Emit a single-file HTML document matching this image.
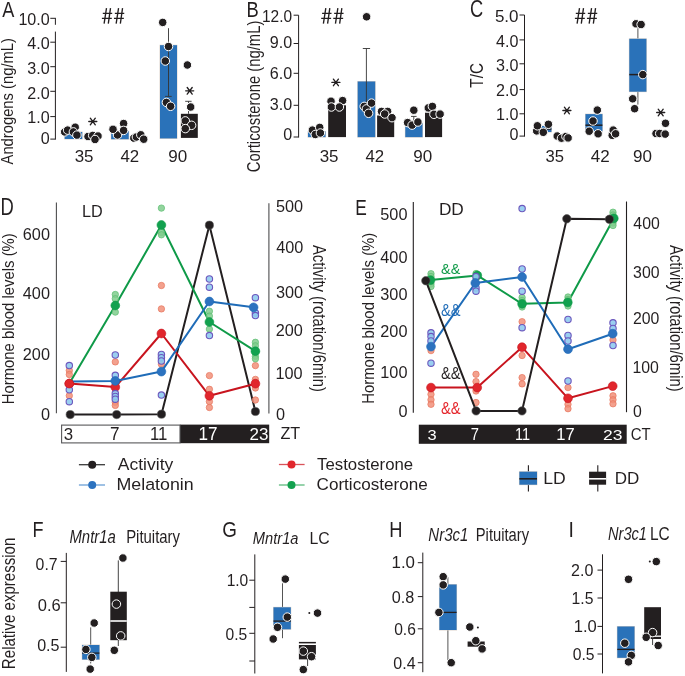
<!DOCTYPE html>
<html><head><meta charset="utf-8"><style>
html,body{margin:0;padding:0;background:#fff;}
svg{display:block;will-change:transform;}
text{font-family:"Liberation Sans",sans-serif;}
</style></head><body>
<svg width="685" height="676" viewBox="0 0 685 676">
<rect width="685" height="676" fill="#fff"/>
<text transform="translate(2.15,16.90) scale(0.8034,1)" font-size="22.55" fill="#231f20">A</text>
<path d="M106.50,8.1 L104.10,23.60 M110.50,8.1 L108.30,23.60 M102.80,13.30 H112.20 M101.90,18.40 H111.80" stroke="#231f20" stroke-width="1.35" fill="none"/>
<path d="M118.55,8.1 L116.15,23.60 M122.55,8.1 L120.35,23.60 M114.85,13.30 H124.25 M113.95,18.40 H123.85" stroke="#231f20" stroke-width="1.35" fill="none"/>
<line x1="50.3" y1="18.3" x2="55.9" y2="18.3" stroke="#231f20" stroke-width="1.0"/>
<line x1="55.4" y1="18.3" x2="55.4" y2="24.8" stroke="#231f20" stroke-width="1.0"/>
<line x1="55.4" y1="31.6" x2="55.4" y2="139.6" stroke="#231f20" stroke-width="1.0"/>
<line x1="50.3" y1="42.2" x2="55.4" y2="42.2" stroke="#231f20" stroke-width="1.0"/>
<line x1="50.3" y1="66.7" x2="55.4" y2="66.7" stroke="#231f20" stroke-width="1.0"/>
<line x1="50.3" y1="91.3" x2="55.4" y2="91.3" stroke="#231f20" stroke-width="1.0"/>
<line x1="50.3" y1="116.6" x2="55.4" y2="116.6" stroke="#231f20" stroke-width="1.0"/>
<line x1="50.3" y1="139.1" x2="55.4" y2="139.1" stroke="#231f20" stroke-width="1.0"/>
<text transform="translate(18.39,24.59) scale(0.9991,1)" font-size="16.11" fill="#231f20">10.0</text>
<text transform="translate(27.31,48.59) scale(1.0000,1)" font-size="16.11" fill="#231f20">4.0</text>
<text transform="translate(27.31,73.74) scale(1.0000,1)" font-size="16.11" fill="#231f20">3.0</text>
<text transform="translate(27.31,98.74) scale(1.0000,1)" font-size="16.11" fill="#231f20">2.0</text>
<text transform="translate(27.31,123.24) scale(1.0000,1)" font-size="16.11" fill="#231f20">1.0</text>
<text transform="translate(40.76,143.94) scale(1.0000,1)" font-size="16.11" fill="#231f20">0</text>
<text transform="translate(12.68,164.44) rotate(-90) scale(0.9243,1)" font-size="15.98" fill="#231f20">Androgens (ng/mL)</text>
<rect x="64.25" y="131.55" width="18.40" height="7.90" fill="#d9cfc6"/>
<rect x="64.7" y="132" width="17.50" height="7.00" fill="#2a72b9"/>
<rect x="84.5" y="138.2" width="17.00" height="0.80" fill="#231f20"/>
<rect x="110.75" y="130.75" width="18.40" height="8.90" fill="#d9cfc6"/>
<rect x="111.2" y="131.2" width="17.50" height="8.00" fill="#2a72b9"/>
<rect x="130.5" y="138.4" width="17.20" height="0.80" fill="#231f20"/>
<rect x="159.55" y="44.75" width="17.90" height="94.10" fill="#d9cfc6"/>
<rect x="160" y="45.2" width="17.00" height="93.20" fill="#2a72b9"/>
<rect x="180.9" y="113.8" width="16.90" height="24.10" fill="#231f20"/>
<line x1="168.5" y1="28.2" x2="168.5" y2="96.4" stroke="#333" stroke-width="0.9"/>
<line x1="165.1" y1="96.4" x2="171.7" y2="96.4" stroke="#333" stroke-width="0.9"/>
<line x1="188.5" y1="101.3" x2="188.5" y2="113.8" stroke="#333" stroke-width="0.9"/>
<line x1="185.2" y1="101.3" x2="191.6" y2="101.3" stroke="#333" stroke-width="0.9"/>
<circle cx="64.7" cy="131.9" r="4.25" fill="#231f20" stroke="#fff" stroke-width="1.0"/>
<circle cx="67.6" cy="130.1" r="4.25" fill="#231f20" stroke="#fff" stroke-width="1.0"/>
<circle cx="75.2" cy="127.2" r="4.25" fill="#231f20" stroke="#fff" stroke-width="1.0"/>
<circle cx="73.4" cy="131.9" r="4.25" fill="#231f20" stroke="#fff" stroke-width="1.0"/>
<circle cx="76.9" cy="135.1" r="4.25" fill="#231f20" stroke="#fff" stroke-width="1.0"/>
<circle cx="88" cy="136.5" r="4.25" fill="#231f20" stroke="#fff" stroke-width="1.0"/>
<circle cx="92.7" cy="135.4" r="4.25" fill="#231f20" stroke="#fff" stroke-width="1.0"/>
<circle cx="98" cy="136" r="4.25" fill="#231f20" stroke="#fff" stroke-width="1.0"/>
<circle cx="95" cy="139.5" r="4.25" fill="#231f20" stroke="#fff" stroke-width="1.0"/>
<circle cx="117.5" cy="135" r="4.25" fill="#231f20" stroke="#fff" stroke-width="1.0"/>
<circle cx="113" cy="129.3" r="4.25" fill="#231f20" stroke="#fff" stroke-width="1.0"/>
<circle cx="123.6" cy="123.5" r="4.25" fill="#231f20" stroke="#fff" stroke-width="1.0"/>
<circle cx="123.6" cy="130.4" r="4.25" fill="#231f20" stroke="#fff" stroke-width="1.0"/>
<circle cx="133.8" cy="138.1" r="4.25" fill="#231f20" stroke="#fff" stroke-width="1.0"/>
<circle cx="136.4" cy="137" r="4.25" fill="#231f20" stroke="#fff" stroke-width="1.0"/>
<circle cx="140.8" cy="134.8" r="4.25" fill="#231f20" stroke="#fff" stroke-width="1.0"/>
<circle cx="143.7" cy="139.2" r="4.25" fill="#231f20" stroke="#fff" stroke-width="1.0"/>
<circle cx="162.7" cy="22.4" r="4.25" fill="#231f20" stroke="#fff" stroke-width="1.0"/>
<circle cx="168.5" cy="46.5" r="4.25" fill="#231f20" stroke="#fff" stroke-width="1.0"/>
<circle cx="165.3" cy="61" r="4.25" fill="#231f20" stroke="#fff" stroke-width="1.0"/>
<circle cx="166.4" cy="102.4" r="4.25" fill="#231f20" stroke="#fff" stroke-width="1.0"/>
<circle cx="170.6" cy="106.3" r="4.25" fill="#231f20" stroke="#fff" stroke-width="1.0"/>
<circle cx="187.4" cy="65" r="4.25" fill="#231f20" stroke="#fff" stroke-width="1.0"/>
<circle cx="190.7" cy="107" r="4.25" fill="#231f20" stroke="#fff" stroke-width="1.0"/>
<circle cx="185.3" cy="120.9" r="4.25" fill="#231f20" stroke="#fff" stroke-width="1.0"/>
<circle cx="191.6" cy="125.3" r="4.25" fill="#231f20" stroke="#fff" stroke-width="1.0"/>
<circle cx="185.3" cy="128.6" r="4.25" fill="#231f20" stroke="#fff" stroke-width="1.0"/>
<path d="M88.80,121.50 H96.80 M90.30,118.20 L95.30,124.80 M95.30,118.20 L90.30,124.80" stroke="#231f20" stroke-width="1.35" stroke-linecap="round" fill="none"/>
<path d="M185.70,90.80 H193.70 M187.20,87.50 L192.20,94.10 M192.20,87.50 L187.20,94.10" stroke="#231f20" stroke-width="1.35" stroke-linecap="round" fill="none"/>
<text transform="translate(74.66,162.03) scale(0.9993,1)" font-size="16.96" fill="#231f20">35</text>
<text transform="translate(120.42,162.20) scale(0.9804,1)" font-size="17.20" fill="#231f20">42</text>
<text transform="translate(168.19,162.03) scale(1.0066,1)" font-size="16.96" fill="#231f20">90</text>
<text transform="translate(246.38,16.90) scale(0.8379,1)" font-size="21.96" fill="#231f20">B</text>
<path d="M325.80,8.1 L323.40,23.60 M329.80,8.1 L327.60,23.60 M322.10,13.30 H331.50 M321.20,18.40 H331.10" stroke="#231f20" stroke-width="1.35" fill="none"/>
<path d="M337.85,8.1 L335.45,23.60 M341.85,8.1 L339.65,23.60 M334.15,13.30 H343.55 M333.25,18.40 H343.15" stroke="#231f20" stroke-width="1.35" fill="none"/>
<line x1="298.6" y1="15.2" x2="298.6" y2="137.5" stroke="#231f20" stroke-width="1.0"/>
<line x1="293.6" y1="15.2" x2="298.6" y2="15.2" stroke="#231f20" stroke-width="1.0"/>
<line x1="293.6" y1="43.5" x2="298.6" y2="43.5" stroke="#231f20" stroke-width="1.0"/>
<line x1="293.6" y1="73.3" x2="298.6" y2="73.3" stroke="#231f20" stroke-width="1.0"/>
<line x1="293.6" y1="105.3" x2="298.6" y2="105.3" stroke="#231f20" stroke-width="1.0"/>
<line x1="293.6" y1="137.0" x2="298.6" y2="137.0" stroke="#231f20" stroke-width="1.0"/>
<text transform="translate(261.94,22.04) scale(0.9618,1)" font-size="16.11" fill="#231f20">12.0</text>
<text transform="translate(269.81,48.24) scale(1.0000,1)" font-size="16.11" fill="#231f20">9.0</text>
<text transform="translate(269.81,78.84) scale(1.0000,1)" font-size="16.11" fill="#231f20">6.0</text>
<text transform="translate(269.81,110.24) scale(1.0000,1)" font-size="16.11" fill="#231f20">3.0</text>
<text transform="translate(283.26,140.04) scale(1.0000,1)" font-size="16.11" fill="#231f20">0</text>
<text transform="translate(259.53,172.14) rotate(-90) scale(0.8381,1)" font-size="17.69" fill="#231f20">Corticosterone (ng/mL)</text>
<rect x="307.55" y="131.05" width="18.40" height="6.50" fill="#d9cfc6"/>
<rect x="308" y="131.5" width="17.50" height="5.60" fill="#2a72b9"/>
<rect x="328.2" y="105.3" width="17.80" height="31.80" fill="#231f20"/>
<rect x="357.25" y="81.05" width="18.40" height="56.50" fill="#d9cfc6"/>
<rect x="357.7" y="81.5" width="17.50" height="55.60" fill="#2a72b9"/>
<rect x="377.1" y="115.5" width="17.10" height="21.60" fill="#231f20"/>
<rect x="404.85" y="122.55" width="18.10" height="15.00" fill="#d9cfc6"/>
<rect x="405.3" y="123" width="17.20" height="14.10" fill="#2a72b9"/>
<rect x="425" y="112.7" width="17.10" height="24.40" fill="#231f20"/>
<line x1="366.4" y1="48.5" x2="366.4" y2="106" stroke="#333" stroke-width="0.9"/>
<line x1="362.8" y1="48.5" x2="370.1" y2="48.5" stroke="#333" stroke-width="0.9"/>
<line x1="413.8" y1="116.4" x2="413.8" y2="123" stroke="#333" stroke-width="0.9"/>
<line x1="411" y1="116.4" x2="416.6" y2="116.4" stroke="#333" stroke-width="0.9"/>
<circle cx="312.4" cy="130.1" r="4.25" fill="#231f20" stroke="#fff" stroke-width="1.0"/>
<circle cx="319.7" cy="127.4" r="4.25" fill="#231f20" stroke="#fff" stroke-width="1.0"/>
<circle cx="315.3" cy="134.5" r="4.25" fill="#231f20" stroke="#fff" stroke-width="1.0"/>
<circle cx="320.4" cy="133" r="4.25" fill="#231f20" stroke="#fff" stroke-width="1.0"/>
<circle cx="331" cy="101.2" r="4.25" fill="#231f20" stroke="#fff" stroke-width="1.0"/>
<circle cx="342.6" cy="100.6" r="4.25" fill="#231f20" stroke="#fff" stroke-width="1.0"/>
<circle cx="331.4" cy="107" r="4.25" fill="#231f20" stroke="#fff" stroke-width="1.0"/>
<circle cx="339.4" cy="107" r="4.25" fill="#231f20" stroke="#fff" stroke-width="1.0"/>
<circle cx="366.6" cy="16.8" r="4.25" fill="#231f20" stroke="#fff" stroke-width="1.0"/>
<circle cx="364.2" cy="106.4" r="4.25" fill="#231f20" stroke="#fff" stroke-width="1.0"/>
<circle cx="366.4" cy="108.9" r="4.25" fill="#231f20" stroke="#fff" stroke-width="1.0"/>
<circle cx="368.6" cy="113.3" r="4.25" fill="#231f20" stroke="#fff" stroke-width="1.0"/>
<circle cx="371.5" cy="103.1" r="4.25" fill="#231f20" stroke="#fff" stroke-width="1.0"/>
<circle cx="381.5" cy="111.4" r="4.25" fill="#231f20" stroke="#fff" stroke-width="1.0"/>
<circle cx="387.6" cy="111.4" r="4.25" fill="#231f20" stroke="#fff" stroke-width="1.0"/>
<circle cx="384.7" cy="114" r="4.25" fill="#231f20" stroke="#fff" stroke-width="1.0"/>
<circle cx="392" cy="117.7" r="4.25" fill="#231f20" stroke="#fff" stroke-width="1.0"/>
<circle cx="413.8" cy="110.2" r="4.25" fill="#231f20" stroke="#fff" stroke-width="1.0"/>
<circle cx="407.6" cy="122.6" r="4.25" fill="#231f20" stroke="#fff" stroke-width="1.0"/>
<circle cx="412.1" cy="125.1" r="4.25" fill="#231f20" stroke="#fff" stroke-width="1.0"/>
<circle cx="417.9" cy="122" r="4.25" fill="#231f20" stroke="#fff" stroke-width="1.0"/>
<circle cx="428.3" cy="107.9" r="4.25" fill="#231f20" stroke="#fff" stroke-width="1.0"/>
<circle cx="432.4" cy="106.4" r="4.25" fill="#231f20" stroke="#fff" stroke-width="1.0"/>
<circle cx="433.9" cy="114.3" r="4.25" fill="#231f20" stroke="#fff" stroke-width="1.0"/>
<circle cx="440.1" cy="114.1" r="4.25" fill="#231f20" stroke="#fff" stroke-width="1.0"/>
<path d="M331.90,82.40 H339.90 M333.40,79.10 L338.40,85.70 M338.40,79.10 L333.40,85.70" stroke="#231f20" stroke-width="1.35" stroke-linecap="round" fill="none"/>
<text transform="translate(319.66,162.03) scale(0.9993,1)" font-size="16.96" fill="#231f20">35</text>
<text transform="translate(365.42,162.20) scale(0.9804,1)" font-size="17.20" fill="#231f20">42</text>
<text transform="translate(413.19,162.03) scale(1.0066,1)" font-size="16.96" fill="#231f20">90</text>
<text transform="translate(469.99,17.46) scale(0.7739,1)" font-size="23.60" fill="#231f20">C</text>
<path d="M579.50,8.1 L577.10,23.60 M583.50,8.1 L581.30,23.60 M575.80,13.30 H585.20 M574.90,18.40 H584.80" stroke="#231f20" stroke-width="1.35" fill="none"/>
<path d="M591.55,8.1 L589.15,23.60 M595.55,8.1 L593.35,23.60 M587.85,13.30 H597.25 M586.95,18.40 H596.85" stroke="#231f20" stroke-width="1.35" fill="none"/>
<line x1="524.5" y1="15.0" x2="524.5" y2="136.6" stroke="#231f20" stroke-width="1.0"/>
<line x1="519.5" y1="15.0" x2="524.5" y2="15.0" stroke="#231f20" stroke-width="1.0"/>
<line x1="519.5" y1="39.9" x2="524.5" y2="39.9" stroke="#231f20" stroke-width="1.0"/>
<line x1="519.5" y1="63.8" x2="524.5" y2="63.8" stroke="#231f20" stroke-width="1.0"/>
<line x1="519.5" y1="89.6" x2="524.5" y2="89.6" stroke="#231f20" stroke-width="1.0"/>
<line x1="519.5" y1="113.8" x2="524.5" y2="113.8" stroke="#231f20" stroke-width="1.0"/>
<line x1="519.5" y1="136.1" x2="524.5" y2="136.1" stroke="#231f20" stroke-width="1.0"/>
<text transform="translate(494.92,22.24) scale(1.0545,1)" font-size="16.11" fill="#231f20">5.0</text>
<text transform="translate(496.11,46.84) scale(1.0000,1)" font-size="16.11" fill="#231f20">4.0</text>
<text transform="translate(496.11,71.04) scale(1.0000,1)" font-size="16.11" fill="#231f20">3.0</text>
<text transform="translate(496.11,95.84) scale(1.0000,1)" font-size="16.11" fill="#231f20">2.0</text>
<text transform="translate(496.11,120.44) scale(1.0000,1)" font-size="16.11" fill="#231f20">1.0</text>
<text transform="translate(509.56,140.44) scale(1.0000,1)" font-size="16.11" fill="#231f20">0</text>
<text transform="translate(482.81,87.64) rotate(-90) scale(0.8144,1)" font-size="18.78" fill="#231f20">T/C</text>
<rect x="534.3499999999999" y="125.55" width="17.50" height="6.90" fill="#d9cfc6"/>
<rect x="534.8" y="126" width="16.60" height="6.00" fill="#2a72b9"/>
<line x1="534.8" y1="129" x2="551.4" y2="129" stroke="#231f20" stroke-width="1.5"/>
<rect x="585.05" y="113.64999999999999" width="17.80" height="18.10" fill="#d9cfc6"/>
<rect x="585.5" y="114.1" width="16.90" height="17.20" fill="#2a72b9"/>
<line x1="585.5" y1="125.2" x2="602.4" y2="125.2" stroke="#231f20" stroke-width="1.5"/>
<line x1="637.9" y1="27.8" x2="637.9" y2="38.8" stroke="#555" stroke-width="1.0"/>
<line x1="637.9" y1="91.7" x2="637.9" y2="104.6" stroke="#555" stroke-width="1.0"/>
<rect x="628.8499999999999" y="38.349999999999994" width="18.00" height="53.80" fill="#d9cfc6"/>
<rect x="629.3" y="38.8" width="17.10" height="52.90" fill="#2a72b9"/>
<line x1="629.3" y1="74.6" x2="646.4" y2="74.6" stroke="#231f20" stroke-width="1.5"/>
<circle cx="536.7" cy="130.9" r="4.25" fill="#231f20" stroke="#fff" stroke-width="1.0"/>
<circle cx="537.4" cy="125.8" r="4.25" fill="#231f20" stroke="#fff" stroke-width="1.0"/>
<circle cx="543.3" cy="132.3" r="4.25" fill="#231f20" stroke="#fff" stroke-width="1.0"/>
<circle cx="548.4" cy="124.3" r="4.25" fill="#231f20" stroke="#fff" stroke-width="1.0"/>
<circle cx="557.2" cy="136" r="4.25" fill="#231f20" stroke="#fff" stroke-width="1.0"/>
<circle cx="561.5" cy="138.2" r="4.25" fill="#231f20" stroke="#fff" stroke-width="1.0"/>
<circle cx="565.9" cy="136.5" r="4.25" fill="#231f20" stroke="#fff" stroke-width="1.0"/>
<circle cx="568.1" cy="137.9" r="4.25" fill="#231f20" stroke="#fff" stroke-width="1.0"/>
<circle cx="597.3" cy="110.1" r="4.25" fill="#231f20" stroke="#fff" stroke-width="1.0"/>
<circle cx="593" cy="121" r="4.25" fill="#231f20" stroke="#fff" stroke-width="1.0"/>
<circle cx="589.2" cy="131.2" r="4.25" fill="#231f20" stroke="#fff" stroke-width="1.0"/>
<circle cx="598.1" cy="133.8" r="4.25" fill="#231f20" stroke="#fff" stroke-width="1.0"/>
<circle cx="612.2" cy="135.3" r="4.25" fill="#231f20" stroke="#fff" stroke-width="1.0"/>
<circle cx="613.2" cy="130.1" r="4.25" fill="#231f20" stroke="#fff" stroke-width="1.0"/>
<circle cx="615.6" cy="133.8" r="4.25" fill="#231f20" stroke="#fff" stroke-width="1.0"/>
<circle cx="636" cy="23.8" r="4.25" fill="#231f20" stroke="#fff" stroke-width="1.0"/>
<circle cx="641.1" cy="24.5" r="4.25" fill="#231f20" stroke="#fff" stroke-width="1.0"/>
<circle cx="642.8" cy="74.6" r="4.25" fill="#231f20" stroke="#fff" stroke-width="1.0"/>
<circle cx="632.7" cy="98.8" r="4.25" fill="#231f20" stroke="#fff" stroke-width="1.0"/>
<circle cx="634.6" cy="108.7" r="4.25" fill="#231f20" stroke="#fff" stroke-width="1.0"/>
<circle cx="665.5" cy="123.3" r="4.25" fill="#231f20" stroke="#fff" stroke-width="1.0"/>
<circle cx="656" cy="133.5" r="4.25" fill="#231f20" stroke="#fff" stroke-width="1.0"/>
<circle cx="659.7" cy="133.5" r="4.25" fill="#231f20" stroke="#fff" stroke-width="1.0"/>
<circle cx="665.2" cy="134.1" r="4.25" fill="#231f20" stroke="#fff" stroke-width="1.0"/>
<path d="M562.90,110.50 H570.90 M564.40,107.20 L569.40,113.80 M569.40,107.20 L564.40,113.80" stroke="#231f20" stroke-width="1.35" stroke-linecap="round" fill="none"/>
<path d="M656.70,112.50 H664.70 M658.20,109.20 L663.20,115.80 M663.20,109.20 L658.20,115.80" stroke="#231f20" stroke-width="1.35" stroke-linecap="round" fill="none"/>
<text transform="translate(545.48,162.03) scale(0.9822,1)" font-size="16.96" fill="#231f20">35</text>
<text transform="translate(590.82,162.20) scale(0.9916,1)" font-size="17.20" fill="#231f20">42</text>
<text transform="translate(632.89,162.03) scale(1.0066,1)" font-size="16.96" fill="#231f20">90</text>
<text transform="translate(0.48,214.90) scale(0.7955,1)" font-size="23.13" fill="#231f20">D</text>
<text transform="translate(82.06,217.00) scale(1.0131,1)" font-size="16.00" fill="#231f20">LD</text>
<line x1="56.4" y1="202.4" x2="56.4" y2="413.3" stroke="#4d4d4f" stroke-width="1.1"/>
<line x1="268.9" y1="203.3" x2="268.9" y2="413.5" stroke="#4d4d4f" stroke-width="1.1"/>
<text transform="translate(22.81,239.79) scale(1.0000,1)" font-size="16.25" fill="#231f20">600</text>
<text transform="translate(22.81,298.89) scale(1.0000,1)" font-size="16.25" fill="#231f20">400</text>
<text transform="translate(22.81,359.59) scale(1.0000,1)" font-size="16.25" fill="#231f20">200</text>
<text transform="translate(40.89,419.89) scale(1.0000,1)" font-size="16.25" fill="#231f20">0</text>
<text transform="translate(275.95,211.69) scale(1.0000,1)" font-size="16.25" fill="#231f20">500</text>
<text transform="translate(276.23,253.29) scale(1.0000,1)" font-size="16.25" fill="#231f20">400</text>
<text transform="translate(275.99,297.79) scale(1.0000,1)" font-size="16.25" fill="#231f20">300</text>
<text transform="translate(275.79,335.79) scale(1.0000,1)" font-size="16.25" fill="#231f20">200</text>
<text transform="translate(275.38,379.19) scale(1.0000,1)" font-size="16.25" fill="#231f20">100</text>
<text transform="translate(275.95,419.99) scale(1.0000,1)" font-size="16.25" fill="#231f20">0</text>
<text transform="translate(14.28,404.33) rotate(-90) scale(0.8783,1)" font-size="16.94" fill="#231f20">Hormone blood levels (%)</text>
<text transform="translate(313.07,244.96) rotate(90) scale(0.7960,1)" font-size="18.66" fill="#231f20">Activity (rotation/6min)</text>
<rect x="179.8" y="424.6" width="89.40" height="18.60" fill="#231f20"/>
<rect x="61.6" y="425.1" width="118.4" height="17.8" fill="#fff" stroke="#58585a" stroke-width="1.1"/>
<text transform="translate(63.67,439.83) scale(0.9930,1)" font-size="16.96" fill="#231f20">3</text>
<text transform="translate(109.94,440.00) scale(0.9821,1)" font-size="17.45" fill="#231f20">7</text>
<text transform="translate(149.94,440.00) scale(0.9643,1)" font-size="17.45" fill="#231f20">11</text>
<text transform="translate(198.41,440.00) scale(0.9830,1)" font-size="17.45" fill="#fff">17</text>
<text transform="translate(249.55,439.83) scale(1.0024,1)" font-size="16.96" fill="#fff">23</text>
<text transform="translate(280.47,439.20) scale(0.9533,1)" font-size="17.02" fill="#231f20">ZT</text>
<polyline points="70.2,414.6 116.7,414.6 161.5,414.2 209.4,225.2 255.4,411.5" fill="none" stroke="#231f20" stroke-width="2.0" stroke-linejoin="round"/>
<circle cx="70.2" cy="414.6" r="4.1" fill="#231f20" stroke="#555" stroke-width="0.6"/>
<circle cx="116.7" cy="414.6" r="4.1" fill="#231f20" stroke="#555" stroke-width="0.6"/>
<circle cx="161.5" cy="414.2" r="4.1" fill="#231f20" stroke="#555" stroke-width="0.6"/>
<circle cx="209.4" cy="225.2" r="4.1" fill="#231f20" stroke="#555" stroke-width="0.6"/>
<circle cx="255.4" cy="411.5" r="4.1" fill="#231f20" stroke="#555" stroke-width="0.6"/>
<polyline points="69.3,383.6 115.3,387.1 161.4,333.5 209.4,395.8 255.4,383.7" fill="none" stroke="#c8141e" stroke-width="2.0" stroke-linejoin="round"/>
<circle cx="69.3" cy="370.5" r="3.2" fill="#f1907a" fill-opacity="0.85" stroke="#e8765f" stroke-opacity="0.8" stroke-width="0.9"/>
<circle cx="69.3" cy="374.5" r="3.2" fill="#f1907a" fill-opacity="0.85" stroke="#e8765f" stroke-opacity="0.8" stroke-width="0.9"/>
<circle cx="69.3" cy="395.7" r="3.2" fill="#f1907a" fill-opacity="0.85" stroke="#e8765f" stroke-opacity="0.8" stroke-width="0.9"/>
<circle cx="115.3" cy="361.9" r="3.2" fill="#f1907a" fill-opacity="0.85" stroke="#e8765f" stroke-opacity="0.8" stroke-width="0.9"/>
<circle cx="115.3" cy="402.3" r="3.2" fill="#f1907a" fill-opacity="0.85" stroke="#e8765f" stroke-opacity="0.8" stroke-width="0.9"/>
<circle cx="115.3" cy="405.4" r="3.2" fill="#f1907a" fill-opacity="0.85" stroke="#e8765f" stroke-opacity="0.8" stroke-width="0.9"/>
<circle cx="161.4" cy="285.5" r="3.2" fill="#f1907a" fill-opacity="0.85" stroke="#e8765f" stroke-opacity="0.8" stroke-width="0.9"/>
<circle cx="161.4" cy="308.9" r="3.2" fill="#f1907a" fill-opacity="0.85" stroke="#e8765f" stroke-opacity="0.8" stroke-width="0.9"/>
<circle cx="161.4" cy="364.2" r="3.2" fill="#f1907a" fill-opacity="0.85" stroke="#e8765f" stroke-opacity="0.8" stroke-width="0.9"/>
<circle cx="209.4" cy="375.6" r="3.2" fill="#f1907a" fill-opacity="0.85" stroke="#e8765f" stroke-opacity="0.8" stroke-width="0.9"/>
<circle cx="209.4" cy="389.3" r="3.2" fill="#f1907a" fill-opacity="0.85" stroke="#e8765f" stroke-opacity="0.8" stroke-width="0.9"/>
<circle cx="209.4" cy="401.6" r="3.2" fill="#f1907a" fill-opacity="0.85" stroke="#e8765f" stroke-opacity="0.8" stroke-width="0.9"/>
<circle cx="209.4" cy="407.5" r="3.2" fill="#f1907a" fill-opacity="0.85" stroke="#e8765f" stroke-opacity="0.8" stroke-width="0.9"/>
<circle cx="255.4" cy="365.6" r="3.2" fill="#f1907a" fill-opacity="0.85" stroke="#e8765f" stroke-opacity="0.8" stroke-width="0.9"/>
<circle cx="255.4" cy="379.4" r="3.2" fill="#f1907a" fill-opacity="0.85" stroke="#e8765f" stroke-opacity="0.8" stroke-width="0.9"/>
<circle cx="255.4" cy="388.0" r="3.2" fill="#f1907a" fill-opacity="0.85" stroke="#e8765f" stroke-opacity="0.8" stroke-width="0.9"/>
<circle cx="255.4" cy="400.0" r="3.2" fill="#f1907a" fill-opacity="0.85" stroke="#e8765f" stroke-opacity="0.8" stroke-width="0.9"/>
<circle cx="69.3" cy="383.6" r="4.4" fill="#e1262c" stroke="#c8141e" stroke-width="0.6"/>
<circle cx="115.3" cy="387.1" r="4.4" fill="#e1262c" stroke="#c8141e" stroke-width="0.6"/>
<circle cx="161.4" cy="333.5" r="4.4" fill="#e1262c" stroke="#c8141e" stroke-width="0.6"/>
<circle cx="209.4" cy="395.8" r="4.4" fill="#e1262c" stroke="#c8141e" stroke-width="0.6"/>
<circle cx="255.4" cy="383.7" r="4.4" fill="#e1262c" stroke="#c8141e" stroke-width="0.6"/>
<polyline points="69.3,383.6 115.3,305.5 161.4,225.0 209.4,322.0 255.4,351.2" fill="none" stroke="#0f9a48" stroke-width="2.0" stroke-linejoin="round"/>
<circle cx="115.3" cy="294.5" r="3.2" fill="#80cc8d" fill-opacity="0.85" stroke="#5fbf74" stroke-opacity="0.8" stroke-width="0.9"/>
<circle cx="115.3" cy="298.7" r="3.2" fill="#80cc8d" fill-opacity="0.85" stroke="#5fbf74" stroke-opacity="0.8" stroke-width="0.9"/>
<circle cx="115.3" cy="312.1" r="3.2" fill="#80cc8d" fill-opacity="0.85" stroke="#5fbf74" stroke-opacity="0.8" stroke-width="0.9"/>
<circle cx="161.4" cy="208.1" r="3.2" fill="#80cc8d" fill-opacity="0.85" stroke="#5fbf74" stroke-opacity="0.8" stroke-width="0.9"/>
<circle cx="161.4" cy="232.5" r="3.2" fill="#80cc8d" fill-opacity="0.85" stroke="#5fbf74" stroke-opacity="0.8" stroke-width="0.9"/>
<circle cx="161.4" cy="234.8" r="3.2" fill="#80cc8d" fill-opacity="0.85" stroke="#5fbf74" stroke-opacity="0.8" stroke-width="0.9"/>
<circle cx="209.4" cy="311.2" r="3.2" fill="#80cc8d" fill-opacity="0.85" stroke="#5fbf74" stroke-opacity="0.8" stroke-width="0.9"/>
<circle cx="209.4" cy="316.1" r="3.2" fill="#80cc8d" fill-opacity="0.85" stroke="#5fbf74" stroke-opacity="0.8" stroke-width="0.9"/>
<circle cx="209.4" cy="329.1" r="3.2" fill="#80cc8d" fill-opacity="0.85" stroke="#5fbf74" stroke-opacity="0.8" stroke-width="0.9"/>
<circle cx="255.4" cy="342.3" r="3.2" fill="#80cc8d" fill-opacity="0.85" stroke="#5fbf74" stroke-opacity="0.8" stroke-width="0.9"/>
<circle cx="255.4" cy="345.8" r="3.2" fill="#80cc8d" fill-opacity="0.85" stroke="#5fbf74" stroke-opacity="0.8" stroke-width="0.9"/>
<circle cx="255.4" cy="356.3" r="3.2" fill="#80cc8d" fill-opacity="0.85" stroke="#5fbf74" stroke-opacity="0.8" stroke-width="0.9"/>
<circle cx="255.4" cy="358.8" r="3.2" fill="#80cc8d" fill-opacity="0.85" stroke="#5fbf74" stroke-opacity="0.8" stroke-width="0.9"/>
<circle cx="115.3" cy="305.5" r="4.4" fill="#12a14f" stroke="#0f9a48" stroke-width="0.6"/>
<circle cx="161.4" cy="225.0" r="4.4" fill="#12a14f" stroke="#0f9a48" stroke-width="0.6"/>
<circle cx="209.4" cy="322.0" r="4.4" fill="#12a14f" stroke="#0f9a48" stroke-width="0.6"/>
<circle cx="255.4" cy="351.2" r="4.4" fill="#12a14f" stroke="#0f9a48" stroke-width="0.6"/>
<polyline points="69.3,381.5 115.3,380.9 161.4,371.6 209.4,301.5 253.6,307.3" fill="none" stroke="#1f6cb8" stroke-width="2.0" stroke-linejoin="round"/>
<circle cx="69.3" cy="365.6" r="3.2" fill="#8fcaee" fill-opacity="0.9" stroke="#6c57bd" stroke-width="1.1"/>
<circle cx="69.3" cy="389.8" r="3.2" fill="#8fcaee" fill-opacity="0.9" stroke="#6c57bd" stroke-width="1.1"/>
<circle cx="69.3" cy="401.7" r="3.2" fill="#8fcaee" fill-opacity="0.9" stroke="#6c57bd" stroke-width="1.1"/>
<circle cx="115.3" cy="355.0" r="3.2" fill="#8fcaee" fill-opacity="0.9" stroke="#6c57bd" stroke-width="1.1"/>
<circle cx="115.3" cy="375.3" r="3.2" fill="#8fcaee" fill-opacity="0.9" stroke="#6c57bd" stroke-width="1.1"/>
<circle cx="115.3" cy="393.6" r="3.2" fill="#8fcaee" fill-opacity="0.9" stroke="#6c57bd" stroke-width="1.1"/>
<circle cx="115.3" cy="396.5" r="3.2" fill="#8fcaee" fill-opacity="0.9" stroke="#6c57bd" stroke-width="1.1"/>
<circle cx="115.3" cy="399.2" r="3.2" fill="#8fcaee" fill-opacity="0.9" stroke="#6c57bd" stroke-width="1.1"/>
<circle cx="161.4" cy="354.5" r="3.2" fill="#8fcaee" fill-opacity="0.9" stroke="#6c57bd" stroke-width="1.1"/>
<circle cx="161.4" cy="357.7" r="3.2" fill="#8fcaee" fill-opacity="0.9" stroke="#6c57bd" stroke-width="1.1"/>
<circle cx="161.4" cy="361.0" r="3.2" fill="#8fcaee" fill-opacity="0.9" stroke="#6c57bd" stroke-width="1.1"/>
<circle cx="161.4" cy="395.1" r="3.2" fill="#8fcaee" fill-opacity="0.9" stroke="#6c57bd" stroke-width="1.1"/>
<circle cx="209.4" cy="279.0" r="3.2" fill="#8fcaee" fill-opacity="0.9" stroke="#6c57bd" stroke-width="1.1"/>
<circle cx="209.4" cy="287.2" r="3.2" fill="#8fcaee" fill-opacity="0.9" stroke="#6c57bd" stroke-width="1.1"/>
<circle cx="209.4" cy="335.6" r="3.2" fill="#8fcaee" fill-opacity="0.9" stroke="#6c57bd" stroke-width="1.1"/>
<circle cx="255.4" cy="297.7" r="3.2" fill="#8fcaee" fill-opacity="0.9" stroke="#6c57bd" stroke-width="1.1"/>
<circle cx="255.4" cy="313.0" r="3.2" fill="#8fcaee" fill-opacity="0.9" stroke="#6c57bd" stroke-width="1.1"/>
<circle cx="255.4" cy="315.6" r="3.2" fill="#8fcaee" fill-opacity="0.9" stroke="#6c57bd" stroke-width="1.1"/>
<circle cx="115.3" cy="380.9" r="4.4" fill="#2c72bf" stroke="#1f6cb8" stroke-width="0.6"/>
<circle cx="161.4" cy="371.6" r="4.4" fill="#2c72bf" stroke="#1f6cb8" stroke-width="0.6"/>
<circle cx="209.4" cy="301.5" r="4.4" fill="#2c72bf" stroke="#1f6cb8" stroke-width="0.6"/>
<circle cx="253.6" cy="307.3" r="4.4" fill="#2c72bf" stroke="#1f6cb8" stroke-width="0.6"/>
<circle cx="69.3" cy="383.6" r="4.4" fill="#e1262c" stroke="#c8141e" stroke-width="0.6"/>
<text transform="translate(355.17,214.90) scale(0.7588,1)" font-size="22.84" fill="#231f20">E</text>
<text transform="translate(438.88,214.90) scale(1.0692,1)" font-size="16.15" fill="#231f20">DD</text>
<line x1="413.3" y1="202.1" x2="413.3" y2="412.7" stroke="#231f20" stroke-width="1.1"/>
<line x1="626.5" y1="201.5" x2="626.5" y2="412.2" stroke="#231f20" stroke-width="1.1"/>
<text transform="translate(380.31,219.79) scale(1.0000,1)" font-size="16.25" fill="#231f20">500</text>
<text transform="translate(380.31,262.79) scale(1.0000,1)" font-size="16.25" fill="#231f20">400</text>
<text transform="translate(380.31,299.59) scale(1.0000,1)" font-size="16.25" fill="#231f20">300</text>
<text transform="translate(380.31,336.89) scale(1.0000,1)" font-size="16.25" fill="#231f20">200</text>
<text transform="translate(380.31,377.89) scale(1.0000,1)" font-size="16.25" fill="#231f20">100</text>
<text transform="translate(398.39,417.09) scale(1.0000,1)" font-size="16.25" fill="#231f20">0</text>
<text transform="translate(633.34,229.24) scale(1.0000,1)" font-size="15.83" fill="#231f20">400</text>
<text transform="translate(633.11,277.54) scale(1.0000,1)" font-size="15.83" fill="#231f20">300</text>
<text transform="translate(632.91,323.94) scale(1.0000,1)" font-size="15.83" fill="#231f20">200</text>
<text transform="translate(632.51,373.04) scale(1.0000,1)" font-size="15.83" fill="#231f20">100</text>
<text transform="translate(633.07,416.94) scale(1.0000,1)" font-size="15.83" fill="#231f20">0</text>
<text transform="translate(374.04,403.73) rotate(-90) scale(0.8668,1)" font-size="17.16" fill="#231f20">Hormone blood levels (%)</text>
<text transform="translate(669.78,244.96) rotate(90) scale(0.8147,1)" font-size="18.23" fill="#231f20">Activity (rotation/6min)</text>
<rect x="418.8" y="424.7" width="207.90" height="19.10" fill="#231f20"/>
<text transform="translate(427.58,439.84) scale(1.0562,1)" font-size="15.55" fill="#fff">3</text>
<text transform="translate(470.86,440.00) scale(0.9203,1)" font-size="16.00" fill="#fff">7</text>
<text transform="translate(514.91,440.00) scale(0.9085,1)" font-size="16.00" fill="#fff">11</text>
<text transform="translate(556.36,440.00) scale(1.0343,1)" font-size="16.00" fill="#fff">17</text>
<text transform="translate(602.93,439.84) scale(1.1252,1)" font-size="15.55" fill="#fff">23</text>
<text transform="translate(630.75,439.64) scale(0.9149,1)" font-size="16.40" fill="#231f20">CT</text>
<text transform="translate(441.10,273.75) scale(0.9401,1)" font-size="15.23" fill="#0f9a48">&amp;&amp;</text>
<text transform="translate(440.99,315.74) scale(0.9309,1)" font-size="15.80" fill="#1f6cb8">&amp;&amp;</text>
<text transform="translate(440.99,379.44) scale(0.9225,1)" font-size="15.94" fill="#231f20">&amp;&amp;</text>
<text transform="translate(440.99,414.04) scale(0.9225,1)" font-size="15.94" fill="#e4252b">&amp;&amp;</text>
<polyline points="431.0,387.6 477.2,387.6 522.0,347.2 568.0,398.3 612.7,386.1" fill="none" stroke="#c8141e" stroke-width="2.0" stroke-linejoin="round"/>
<circle cx="431.0" cy="350.6" r="3.2" fill="#f1907a" fill-opacity="0.85" stroke="#e8765f" stroke-opacity="0.8" stroke-width="0.9"/>
<circle cx="431.0" cy="394.3" r="3.2" fill="#f1907a" fill-opacity="0.85" stroke="#e8765f" stroke-opacity="0.8" stroke-width="0.9"/>
<circle cx="431.0" cy="399.8" r="3.2" fill="#f1907a" fill-opacity="0.85" stroke="#e8765f" stroke-opacity="0.8" stroke-width="0.9"/>
<circle cx="431.0" cy="404.3" r="3.2" fill="#f1907a" fill-opacity="0.85" stroke="#e8765f" stroke-opacity="0.8" stroke-width="0.9"/>
<circle cx="476.0" cy="374.3" r="3.2" fill="#f1907a" fill-opacity="0.85" stroke="#e8765f" stroke-opacity="0.8" stroke-width="0.9"/>
<circle cx="476.0" cy="381.6" r="3.2" fill="#f1907a" fill-opacity="0.85" stroke="#e8765f" stroke-opacity="0.8" stroke-width="0.9"/>
<circle cx="476.0" cy="391.0" r="3.2" fill="#f1907a" fill-opacity="0.85" stroke="#e8765f" stroke-opacity="0.8" stroke-width="0.9"/>
<circle cx="476.0" cy="402.5" r="3.2" fill="#f1907a" fill-opacity="0.85" stroke="#e8765f" stroke-opacity="0.8" stroke-width="0.9"/>
<circle cx="522.1" cy="321.7" r="3.2" fill="#f1907a" fill-opacity="0.85" stroke="#e8765f" stroke-opacity="0.8" stroke-width="0.9"/>
<circle cx="522.1" cy="355.5" r="3.2" fill="#f1907a" fill-opacity="0.85" stroke="#e8765f" stroke-opacity="0.8" stroke-width="0.9"/>
<circle cx="522.1" cy="377.6" r="3.2" fill="#f1907a" fill-opacity="0.85" stroke="#e8765f" stroke-opacity="0.8" stroke-width="0.9"/>
<circle cx="522.1" cy="383.9" r="3.2" fill="#f1907a" fill-opacity="0.85" stroke="#e8765f" stroke-opacity="0.8" stroke-width="0.9"/>
<circle cx="568.0" cy="387.6" r="3.2" fill="#f1907a" fill-opacity="0.85" stroke="#e8765f" stroke-opacity="0.8" stroke-width="0.9"/>
<circle cx="568.0" cy="404.3" r="3.2" fill="#f1907a" fill-opacity="0.85" stroke="#e8765f" stroke-opacity="0.8" stroke-width="0.9"/>
<circle cx="568.0" cy="408.7" r="3.2" fill="#f1907a" fill-opacity="0.85" stroke="#e8765f" stroke-opacity="0.8" stroke-width="0.9"/>
<circle cx="613.0" cy="340.0" r="3.2" fill="#f1907a" fill-opacity="0.85" stroke="#e8765f" stroke-opacity="0.8" stroke-width="0.9"/>
<circle cx="613.0" cy="395.8" r="3.2" fill="#f1907a" fill-opacity="0.85" stroke="#e8765f" stroke-opacity="0.8" stroke-width="0.9"/>
<circle cx="613.0" cy="399.8" r="3.2" fill="#f1907a" fill-opacity="0.85" stroke="#e8765f" stroke-opacity="0.8" stroke-width="0.9"/>
<circle cx="613.0" cy="403.8" r="3.2" fill="#f1907a" fill-opacity="0.85" stroke="#e8765f" stroke-opacity="0.8" stroke-width="0.9"/>
<circle cx="431.0" cy="387.6" r="4.4" fill="#e1262c" stroke="#c8141e" stroke-width="0.6"/>
<circle cx="477.2" cy="387.6" r="4.4" fill="#e1262c" stroke="#c8141e" stroke-width="0.6"/>
<circle cx="522.0" cy="347.2" r="4.4" fill="#e1262c" stroke="#c8141e" stroke-width="0.6"/>
<circle cx="568.0" cy="398.3" r="4.4" fill="#e1262c" stroke="#c8141e" stroke-width="0.6"/>
<circle cx="612.7" cy="386.1" r="4.4" fill="#e1262c" stroke="#c8141e" stroke-width="0.6"/>
<polyline points="430.5,280.1 477.3,275.4 522.1,303.8 567.8,302.4 613.8,218.4" fill="none" stroke="#0f9a48" stroke-width="2.0" stroke-linejoin="round"/>
<circle cx="431.0" cy="273.7" r="3.2" fill="#80cc8d" fill-opacity="0.85" stroke="#5fbf74" stroke-opacity="0.8" stroke-width="0.9"/>
<circle cx="431.0" cy="276.5" r="3.2" fill="#80cc8d" fill-opacity="0.85" stroke="#5fbf74" stroke-opacity="0.8" stroke-width="0.9"/>
<circle cx="431.0" cy="284.0" r="3.2" fill="#80cc8d" fill-opacity="0.85" stroke="#5fbf74" stroke-opacity="0.8" stroke-width="0.9"/>
<circle cx="431.0" cy="286.5" r="3.2" fill="#80cc8d" fill-opacity="0.85" stroke="#5fbf74" stroke-opacity="0.8" stroke-width="0.9"/>
<circle cx="476.0" cy="273.5" r="3.2" fill="#80cc8d" fill-opacity="0.85" stroke="#5fbf74" stroke-opacity="0.8" stroke-width="0.9"/>
<circle cx="476.0" cy="278.0" r="3.2" fill="#80cc8d" fill-opacity="0.85" stroke="#5fbf74" stroke-opacity="0.8" stroke-width="0.9"/>
<circle cx="522.1" cy="297.5" r="3.2" fill="#80cc8d" fill-opacity="0.85" stroke="#5fbf74" stroke-opacity="0.8" stroke-width="0.9"/>
<circle cx="522.1" cy="300.5" r="3.2" fill="#80cc8d" fill-opacity="0.85" stroke="#5fbf74" stroke-opacity="0.8" stroke-width="0.9"/>
<circle cx="522.1" cy="307.0" r="3.2" fill="#80cc8d" fill-opacity="0.85" stroke="#5fbf74" stroke-opacity="0.8" stroke-width="0.9"/>
<circle cx="568.0" cy="297.0" r="3.2" fill="#80cc8d" fill-opacity="0.85" stroke="#5fbf74" stroke-opacity="0.8" stroke-width="0.9"/>
<circle cx="568.0" cy="299.5" r="3.2" fill="#80cc8d" fill-opacity="0.85" stroke="#5fbf74" stroke-opacity="0.8" stroke-width="0.9"/>
<circle cx="568.0" cy="306.0" r="3.2" fill="#80cc8d" fill-opacity="0.85" stroke="#5fbf74" stroke-opacity="0.8" stroke-width="0.9"/>
<circle cx="613.0" cy="212.2" r="3.2" fill="#80cc8d" fill-opacity="0.85" stroke="#5fbf74" stroke-opacity="0.8" stroke-width="0.9"/>
<circle cx="613.0" cy="215.0" r="3.2" fill="#80cc8d" fill-opacity="0.85" stroke="#5fbf74" stroke-opacity="0.8" stroke-width="0.9"/>
<circle cx="613.0" cy="223.0" r="3.2" fill="#80cc8d" fill-opacity="0.85" stroke="#5fbf74" stroke-opacity="0.8" stroke-width="0.9"/>
<circle cx="613.0" cy="225.5" r="3.2" fill="#80cc8d" fill-opacity="0.85" stroke="#5fbf74" stroke-opacity="0.8" stroke-width="0.9"/>
<circle cx="430.5" cy="280.1" r="4.4" fill="#12a14f" stroke="#0f9a48" stroke-width="0.6"/>
<circle cx="477.3" cy="275.4" r="4.4" fill="#12a14f" stroke="#0f9a48" stroke-width="0.6"/>
<circle cx="522.1" cy="303.8" r="4.4" fill="#12a14f" stroke="#0f9a48" stroke-width="0.6"/>
<circle cx="567.8" cy="302.4" r="4.4" fill="#12a14f" stroke="#0f9a48" stroke-width="0.6"/>
<circle cx="613.8" cy="218.4" r="4.4" fill="#12a14f" stroke="#0f9a48" stroke-width="0.6"/>
<polyline points="431.0,346.6 475.3,283.0 522.1,277.0 568.0,349.2 612.7,333.7" fill="none" stroke="#1f6cb8" stroke-width="2.0" stroke-linejoin="round"/>
<circle cx="431.0" cy="332.8" r="3.2" fill="#8fcaee" fill-opacity="0.9" stroke="#6c57bd" stroke-width="1.1"/>
<circle cx="431.0" cy="336.6" r="3.2" fill="#8fcaee" fill-opacity="0.9" stroke="#6c57bd" stroke-width="1.1"/>
<circle cx="431.0" cy="341.0" r="3.2" fill="#8fcaee" fill-opacity="0.9" stroke="#6c57bd" stroke-width="1.1"/>
<circle cx="431.0" cy="363.2" r="3.2" fill="#8fcaee" fill-opacity="0.9" stroke="#6c57bd" stroke-width="1.1"/>
<circle cx="476.0" cy="276.6" r="3.2" fill="#8fcaee" fill-opacity="0.9" stroke="#6c57bd" stroke-width="1.1"/>
<circle cx="476.0" cy="288.0" r="3.2" fill="#8fcaee" fill-opacity="0.9" stroke="#6c57bd" stroke-width="1.1"/>
<circle cx="476.0" cy="291.2" r="3.2" fill="#8fcaee" fill-opacity="0.9" stroke="#6c57bd" stroke-width="1.1"/>
<circle cx="522.1" cy="208.6" r="3.2" fill="#8fcaee" fill-opacity="0.9" stroke="#6c57bd" stroke-width="1.1"/>
<circle cx="522.1" cy="269.0" r="3.2" fill="#8fcaee" fill-opacity="0.9" stroke="#6c57bd" stroke-width="1.1"/>
<circle cx="522.1" cy="291.2" r="3.2" fill="#8fcaee" fill-opacity="0.9" stroke="#6c57bd" stroke-width="1.1"/>
<circle cx="522.1" cy="327.7" r="3.2" fill="#8fcaee" fill-opacity="0.9" stroke="#6c57bd" stroke-width="1.1"/>
<circle cx="568.0" cy="319.5" r="3.2" fill="#8fcaee" fill-opacity="0.9" stroke="#6c57bd" stroke-width="1.1"/>
<circle cx="568.0" cy="335.5" r="3.2" fill="#8fcaee" fill-opacity="0.9" stroke="#6c57bd" stroke-width="1.1"/>
<circle cx="568.0" cy="341.0" r="3.2" fill="#8fcaee" fill-opacity="0.9" stroke="#6c57bd" stroke-width="1.1"/>
<circle cx="568.0" cy="381.0" r="3.2" fill="#8fcaee" fill-opacity="0.9" stroke="#6c57bd" stroke-width="1.1"/>
<circle cx="613.0" cy="322.8" r="3.2" fill="#8fcaee" fill-opacity="0.9" stroke="#6c57bd" stroke-width="1.1"/>
<circle cx="613.0" cy="328.4" r="3.2" fill="#8fcaee" fill-opacity="0.9" stroke="#6c57bd" stroke-width="1.1"/>
<circle cx="613.0" cy="345.5" r="3.2" fill="#8fcaee" fill-opacity="0.9" stroke="#6c57bd" stroke-width="1.1"/>
<circle cx="431.0" cy="346.6" r="4.4" fill="#2c72bf" stroke="#1f6cb8" stroke-width="0.6"/>
<circle cx="475.3" cy="283.0" r="4.4" fill="#2c72bf" stroke="#1f6cb8" stroke-width="0.6"/>
<circle cx="522.1" cy="277.0" r="4.4" fill="#2c72bf" stroke="#1f6cb8" stroke-width="0.6"/>
<circle cx="568.0" cy="349.2" r="4.4" fill="#2c72bf" stroke="#1f6cb8" stroke-width="0.6"/>
<circle cx="612.7" cy="333.7" r="4.4" fill="#2c72bf" stroke="#1f6cb8" stroke-width="0.6"/>
<polyline points="425.8,280.7 476.1,410.9 522.0,410.9 566.8,218.8 609.4,219.3" fill="none" stroke="#231f20" stroke-width="2.0" stroke-linejoin="round"/>
<circle cx="425.8" cy="280.7" r="4.2" fill="#231f20" stroke="#555" stroke-width="0.6"/>
<circle cx="476.1" cy="410.9" r="4.2" fill="#231f20" stroke="#555" stroke-width="0.6"/>
<circle cx="522.0" cy="410.9" r="4.2" fill="#231f20" stroke="#555" stroke-width="0.6"/>
<circle cx="566.8" cy="218.8" r="4.2" fill="#231f20" stroke="#555" stroke-width="0.6"/>
<circle cx="609.4" cy="219.3" r="4.2" fill="#231f20" stroke="#555" stroke-width="0.6"/>
<line x1="78.9" y1="464.7" x2="105.0" y2="464.7" stroke="#3a3a3a" stroke-width="1.3"/>
<circle cx="92.2" cy="464.7" r="4.0" fill="#231f20"/>
<line x1="78.9" y1="485.0" x2="105.0" y2="485.0" stroke="#6b9fd6" stroke-width="1.3"/>
<circle cx="92.2" cy="485.0" r="4.0" fill="#2c72bf"/>
<line x1="278.9" y1="464.5" x2="304.6" y2="464.5" stroke="#d9535a" stroke-width="1.3"/>
<circle cx="291.5" cy="464.5" r="4.0" fill="#e1262c"/>
<line x1="278.9" y1="485.0" x2="304.6" y2="485.0" stroke="#5dba7d" stroke-width="1.3"/>
<circle cx="291.5" cy="485.0" r="4.0" fill="#12a14f"/>
<text transform="translate(117.86,469.90) scale(1.0275,1)" font-size="17.02" fill="#231f20">Activity</text>
<text transform="translate(116.43,489.70) scale(1.0944,1)" font-size="16.29" fill="#231f20">Melatonin</text>
<text transform="translate(317.02,470.00) scale(0.9873,1)" font-size="17.02" fill="#231f20">Testosterone</text>
<text transform="translate(316.55,489.83) scale(1.0339,1)" font-size="16.54" fill="#231f20">Corticosterone</text>
<line x1="528.4" y1="465.3" x2="528.4" y2="491.5" stroke="#231f20" stroke-width="1.1"/>
<rect x="518.9499999999999" y="471.25" width="18.50" height="13.90" fill="#d9cfc6"/>
<rect x="519.4" y="471.7" width="17.60" height="13.00" fill="#2a72b9"/>
<line x1="519.4" y1="478.8" x2="537.0" y2="478.8" stroke="#231f20" stroke-width="1.6"/>
<line x1="597.8" y1="465.3" x2="597.8" y2="491.5" stroke="#231f20" stroke-width="1.1"/>
<rect x="589.1" y="471.7" width="17.00" height="13.00" fill="#231f20"/>
<line x1="589.1" y1="478.8" x2="606.1" y2="478.8" stroke="#fff" stroke-width="1.6"/>
<text transform="translate(543.15,484.20) scale(1.0433,1)" font-size="16.87" fill="#231f20">LD</text>
<text transform="translate(614.69,484.20) scale(1.0096,1)" font-size="16.87" fill="#231f20">DD</text>
<text transform="translate(32.61,536.70) scale(0.7855,1)" font-size="22.98" fill="#231f20">F</text>
<text transform="translate(69.45,543.10) scale(0.8554,1)" font-size="17.45" fill="#231f20" font-style="italic">Mntr1a</text>
<text transform="translate(126.17,543.10) scale(0.8543,1)" font-size="17.45" fill="#231f20">Pituitary</text>
<text transform="translate(14.76,669.14) rotate(-90) scale(0.8365,1)" font-size="18.02" fill="#231f20">Relative expression</text>
<line x1="66.3" y1="552.9" x2="66.3" y2="671.9" stroke="#231f20" stroke-width="1.0"/>
<line x1="60.699999999999996" y1="561.4" x2="66.3" y2="561.4" stroke="#231f20" stroke-width="1.0"/>
<line x1="60.699999999999996" y1="602.8" x2="66.3" y2="602.8" stroke="#231f20" stroke-width="1.0"/>
<line x1="60.699999999999996" y1="647.2" x2="66.3" y2="647.2" stroke="#231f20" stroke-width="1.0"/>
<text transform="translate(35.57,569.54) scale(0.9834,1)" font-size="16.11" fill="#231f20">0.7</text>
<text transform="translate(37.84,610.84) scale(1.0253,1)" font-size="16.11" fill="#231f20">0.6</text>
<text transform="translate(37.16,650.84) scale(0.9996,1)" font-size="16.11" fill="#231f20">0.5</text>
<line x1="90.7" y1="627.4" x2="90.7" y2="663.5" stroke="#555" stroke-width="1.0"/>
<rect x="81.75" y="644.55" width="18.10" height="15.40" fill="#d9cfc6"/>
<rect x="82.2" y="645.0" width="17.20" height="14.50" fill="#2a72b9"/>
<line x1="82.2" y1="653.1" x2="99.4" y2="653.1" stroke="#231f20" stroke-width="1.3"/>
<circle cx="94.2" cy="623.0" r="4.25" fill="#231f20" stroke="#fff" stroke-width="1.0"/>
<circle cx="85.9" cy="649.4" r="4.25" fill="#231f20" stroke="#fff" stroke-width="1.0"/>
<circle cx="91.8" cy="657.4" r="4.25" fill="#231f20" stroke="#fff" stroke-width="1.0"/>
<circle cx="90.2" cy="669.1" r="4.25" fill="#231f20" stroke="#fff" stroke-width="1.0"/>
<line x1="118.3" y1="560.4" x2="118.3" y2="646.0" stroke="#444" stroke-width="1.0"/>
<rect x="110.3" y="591.7" width="16.50" height="48.50" fill="#231f20"/>
<line x1="110.3" y1="621.0" x2="126.8" y2="621.0" stroke="#fff" stroke-width="1.6"/>
<circle cx="122.9" cy="558.0" r="4.25" fill="#231f20" stroke="#fff" stroke-width="1.0"/>
<circle cx="116.4" cy="604.1" r="4.25" fill="#231f20" stroke="#fff" stroke-width="1.0"/>
<circle cx="120.7" cy="635.9" r="4.25" fill="#231f20" stroke="#fff" stroke-width="1.0"/>
<circle cx="114.3" cy="650.3" r="4.25" fill="#231f20" stroke="#fff" stroke-width="1.0"/>
<text transform="translate(222.36,536.67) scale(0.8233,1)" font-size="22.90" fill="#231f20">G</text>
<text transform="translate(252.86,544.40) scale(0.8474,1)" font-size="17.31" fill="#231f20" font-style="italic">Mntr1a</text>
<text transform="translate(309.40,544.40) scale(0.9134,1)" font-size="17.31" fill="#231f20">LC</text>
<line x1="254.8" y1="554.4" x2="254.8" y2="673.5" stroke="#231f20" stroke-width="1.0"/>
<line x1="249.3" y1="580.2" x2="254.8" y2="580.2" stroke="#231f20" stroke-width="1.0"/>
<line x1="249.3" y1="607.4" x2="254.8" y2="607.4" stroke="#231f20" stroke-width="1.0"/>
<line x1="249.3" y1="633.3" x2="254.8" y2="633.3" stroke="#231f20" stroke-width="1.0"/>
<line x1="249.3" y1="661.0" x2="254.8" y2="661.0" stroke="#231f20" stroke-width="1.0"/>
<text transform="translate(226.63,585.84) scale(0.9667,1)" font-size="16.11" fill="#231f20">1.0</text>
<text transform="translate(225.47,640.14) scale(0.9712,1)" font-size="16.11" fill="#231f20">0.5</text>
<line x1="282.5" y1="583.3" x2="282.5" y2="638.2" stroke="#555" stroke-width="1.0"/>
<rect x="273.05" y="606.8499999999999" width="18.20" height="22.90" fill="#d9cfc6"/>
<rect x="273.5" y="607.3" width="17.30" height="22.00" fill="#2a72b9"/>
<line x1="273.5" y1="621.1" x2="290.8" y2="621.1" stroke="#231f20" stroke-width="1.3"/>
<circle cx="285.3" cy="579.1" r="4.25" fill="#231f20" stroke="#fff" stroke-width="1.0"/>
<circle cx="287.3" cy="617.1" r="4.25" fill="#231f20" stroke="#fff" stroke-width="1.0"/>
<circle cx="277.5" cy="627.3" r="4.25" fill="#231f20" stroke="#fff" stroke-width="1.0"/>
<circle cx="273.2" cy="639.0" r="4.25" fill="#231f20" stroke="#fff" stroke-width="1.0"/>
<line x1="307.6" y1="659.0" x2="307.6" y2="666.0" stroke="#444" stroke-width="1.0"/>
<rect x="298.9" y="641.9" width="17.00" height="1.50" fill="#231f20"/>
<rect x="298.9" y="645.0" width="17.00" height="14.40" fill="#231f20"/>
<circle cx="303.3" cy="651.1" r="4.25" fill="#231f20" stroke="#fff" stroke-width="1.0"/>
<circle cx="311.5" cy="656.7" r="4.25" fill="#231f20" stroke="#fff" stroke-width="1.0"/>
<circle cx="303.3" cy="669.6" r="4.25" fill="#231f20" stroke="#fff" stroke-width="1.0"/>
<circle cx="317.5" cy="613.1" r="4.25" fill="#231f20" stroke="#fff" stroke-width="1.0"/>
<circle cx="309.3" cy="613.1" r="1.0" fill="#231f20"/>
<text transform="translate(389.29,536.70) scale(0.7961,1)" font-size="22.98" fill="#231f20">H</text>
<text transform="translate(428.35,541.30) scale(0.8517,1)" font-size="17.60" fill="#231f20" font-style="italic">Nr3c1</text>
<text transform="translate(475.78,541.30) scale(0.8392,1)" font-size="17.60" fill="#231f20">Pituitary</text>
<line x1="422.8" y1="552.6" x2="422.8" y2="672.2" stroke="#231f20" stroke-width="1.0"/>
<line x1="417.8" y1="562.7" x2="422.8" y2="562.7" stroke="#231f20" stroke-width="1.0"/>
<line x1="417.8" y1="596.6" x2="422.8" y2="596.6" stroke="#231f20" stroke-width="1.0"/>
<line x1="417.8" y1="628.8" x2="422.8" y2="628.8" stroke="#231f20" stroke-width="1.0"/>
<line x1="417.8" y1="662.7" x2="422.8" y2="662.7" stroke="#231f20" stroke-width="1.0"/>
<text transform="translate(391.53,567.74) scale(1.0493,1)" font-size="16.11" fill="#231f20">1.0</text>
<text transform="translate(391.65,602.54) scale(1.0063,1)" font-size="16.11" fill="#231f20">0.8</text>
<text transform="translate(394.18,635.04) scale(0.9683,1)" font-size="16.11" fill="#231f20">0.6</text>
<text transform="translate(393.36,668.94) scale(0.9949,1)" font-size="16.11" fill="#231f20">0.4</text>
<line x1="447.9" y1="577.2" x2="447.9" y2="660.0" stroke="#555" stroke-width="1.0"/>
<rect x="438.95" y="584.05" width="18.10" height="46.40" fill="#d9cfc6"/>
<rect x="439.4" y="584.5" width="17.20" height="45.50" fill="#2a72b9"/>
<line x1="439.4" y1="612.4" x2="456.6" y2="612.4" stroke="#231f20" stroke-width="1.3"/>
<circle cx="443.2" cy="576.7" r="4.25" fill="#231f20" stroke="#fff" stroke-width="1.0"/>
<circle cx="443.2" cy="584.9" r="4.25" fill="#231f20" stroke="#fff" stroke-width="1.0"/>
<circle cx="438.9" cy="612.4" r="4.25" fill="#231f20" stroke="#fff" stroke-width="1.0"/>
<circle cx="451.2" cy="662.7" r="4.25" fill="#231f20" stroke="#fff" stroke-width="1.0"/>
<rect x="467.6" y="641.5" width="17.10" height="5.20" fill="#231f20"/>
<circle cx="469.8" cy="627.0" r="4.25" fill="#231f20" stroke="#fff" stroke-width="1.0"/>
<circle cx="475.8" cy="640.7" r="4.25" fill="#231f20" stroke="#fff" stroke-width="1.0"/>
<circle cx="482.1" cy="648.9" r="4.25" fill="#231f20" stroke="#fff" stroke-width="1.0"/>
<circle cx="477.9" cy="627.5" r="1.0" fill="#231f20"/>
<text transform="translate(568.40,536.70) scale(0.8521,1)" font-size="22.84" fill="#231f20">I</text>
<text transform="translate(607.96,540.20) scale(0.8317,1)" font-size="17.60" fill="#231f20" font-style="italic">Nr3c1</text>
<text transform="translate(649.92,540.20) scale(0.8787,1)" font-size="17.60" fill="#231f20">LC</text>
<line x1="602.5" y1="554.3" x2="602.5" y2="673.4" stroke="#231f20" stroke-width="1.0"/>
<line x1="597.5" y1="570.1" x2="602.5" y2="570.1" stroke="#231f20" stroke-width="1.0"/>
<line x1="597.5" y1="598.0" x2="602.5" y2="598.0" stroke="#231f20" stroke-width="1.0"/>
<line x1="597.5" y1="626.4" x2="602.5" y2="626.4" stroke="#231f20" stroke-width="1.0"/>
<line x1="597.5" y1="654.0" x2="602.5" y2="654.0" stroke="#231f20" stroke-width="1.0"/>
<text transform="translate(571.10,576.34) scale(0.9958,1)" font-size="16.11" fill="#231f20">2.0</text>
<text transform="translate(571.52,603.54) scale(0.9646,1)" font-size="16.34" fill="#231f20">1.5</text>
<text transform="translate(573.76,631.84) scale(1.0299,1)" font-size="16.11" fill="#231f20">1.0</text>
<text transform="translate(572.77,660.34) scale(0.9759,1)" font-size="16.11" fill="#231f20">0.5</text>
<rect x="616.8499999999999" y="626.05" width="18.10" height="32.20" fill="#d9cfc6"/>
<rect x="617.3" y="626.5" width="17.20" height="31.30" fill="#2a72b9"/>
<line x1="617.3" y1="649.4" x2="634.5" y2="649.4" stroke="#231f20" stroke-width="1.3"/>
<circle cx="628.5" cy="579.3" r="4.25" fill="#231f20" stroke="#fff" stroke-width="1.0"/>
<circle cx="624.8" cy="643.2" r="4.25" fill="#231f20" stroke="#fff" stroke-width="1.0"/>
<circle cx="631.3" cy="655.4" r="4.25" fill="#231f20" stroke="#fff" stroke-width="1.0"/>
<circle cx="628.5" cy="661.9" r="4.25" fill="#231f20" stroke="#fff" stroke-width="1.0"/>
<line x1="652.6" y1="639.0" x2="652.6" y2="645.0" stroke="#444" stroke-width="1.0"/>
<rect x="644.2" y="607.2" width="16.80" height="31.80" fill="#231f20"/>
<line x1="644.2" y1="636.2" x2="661.0" y2="636.2" stroke="#fff" stroke-width="1.3"/>
<circle cx="656.3" cy="561.6" r="4.25" fill="#231f20" stroke="#fff" stroke-width="1.0"/>
<circle cx="652.6" cy="632.6" r="4.25" fill="#231f20" stroke="#fff" stroke-width="1.0"/>
<circle cx="646.2" cy="637.3" r="4.25" fill="#231f20" stroke="#fff" stroke-width="1.0"/>
<circle cx="658.2" cy="645.5" r="4.25" fill="#231f20" stroke="#fff" stroke-width="1.0"/>
<circle cx="649.8" cy="561.6" r="1.0" fill="#231f20"/>
</svg></body></html>
